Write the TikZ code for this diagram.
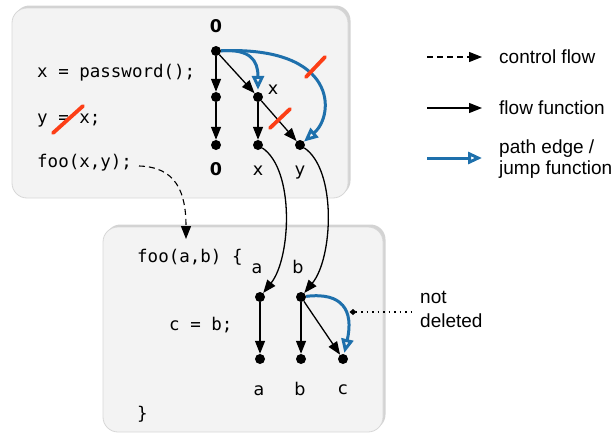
\documentclass[tikz,border=0pt]{standalone}
\usepackage{fontspec}
\setmainfont{Liberation Sans}
\newfontfamily\codefont{DejaVu Sans Mono}
\newfontfamily\labfont{DejaVu Sans}
\usetikzlibrary{arrows.meta,shadows}
\definecolor{jblue}{RGB}{30,112,172}
\definecolor{cutred}{RGB}{252,62,22}
\definecolor{boxgray}{RGB}{243,243,243}
\definecolor{boxline}{RGB}{215,215,215}
\tikzset{
  dot/.style={circle,fill=black,inner sep=0pt,minimum size=10pt},
  flow/.style={-{Triangle[length=13pt,width=10pt]},line width=1.3pt},
  ctrl/.style={-{Triangle[length=13pt,width=10pt]},line width=1.1pt,dash pattern=on 6pt off 4pt},
  jump/.style={-{Triangle[open,length=14pt,width=12pt]},line width=3pt,draw=jblue},
  cut/.style={draw=cutred,line width=3.8pt,line cap=round},
  box/.style={rounded corners=15pt,fill=boxgray,draw=boxline,line width=0.8pt,
    drop shadow={opacity=0.35,shadow xshift=2.5pt,shadow yshift=2.5pt}},
  code/.style={anchor=base west,inner sep=0pt,font=\codefont\fontsize{17.5}{21}\selectfont},
  lab/.style={anchor=base,inner sep=0pt,font=\labfont\fontsize{17.5}{21}\selectfont},
  blab/.style={anchor=base,inner sep=0pt,font=\labfont\bfseries\fontsize{17.5}{21}\selectfont},
  leg/.style={anchor=base west,inner sep=0pt,align=left,font=\fontsize{19}{22}\selectfont},
}
\begin{document}
\begin{tikzpicture}[x=1pt,y=-1pt]
\useasboundingbox (0,0) rectangle (616,439);
% boxes
\path[box] (12,8) rectangle (348,198);
\path[box] (103,227) rectangle (383,432);
% code top
\node[code] (c1) at (37,77) {x = password();};
\node[code] (c2) at (37,123) {y = x;};
\node[code] (c3) at (37,167) {foo(x,y);};
% code bottom
\node[code] (d1) at (137,262) {foo(a,b) \{};
\node[code] (d2) at (169,330) {c = b;};
\node[code] (d3) at (137,419) {\}};
% top graph nodes
\node[dot] (t0) at (216,51) {};
\node[dot] (m0) at (216,97) {};
\node[dot] (m1) at (258,97) {};
\node[dot] (b0) at (216,145) {};
\node[dot] (b1) at (258,145) {};
\node[dot] (b2) at (300,145) {};
\node[blab] (l0) at (216,32) {0};
\node[lab] (lx) at (273,94) {x};
\node[blab] (lb0) at (216,175) {0};
\node[lab] (lbx) at (258,175) {x};
\node[lab] (lby) at (300,175) {y};
% bottom graph nodes
\node[dot] (pa) at (260,297) {};
\node[dot] (pb) at (301,297) {};
\node[dot] (qa) at (260,359) {};
\node[dot] (qb) at (301,359) {};
\node[dot] (qc) at (343,359) {};
\node[lab] (la) at (257,273) {a};
\node[lab] (lb) at (298,273) {b};
\node[lab] (lqa) at (259,395) {a};
\node[lab] (lqb) at (300,395) {b};
\node[lab] (lqc) at (343,394) {c};
% flow functions top
\draw[flow] (t0) -- (m0);
\draw[flow] (m0) -- (b0);
\draw[flow] (t0) -- (m1);
\draw[flow] (m1) -- (b1);
\draw[flow] (m1) -- (b2);
% jump functions top
\draw[jump,shorten >=2pt] (t0) .. controls (250,49) and (258,60) .. (m1);
\draw[jump] (t0) .. controls (338,46) and (335,115) .. (b2);
% cuts
\draw[cut] (53,133) -- (83,106);
\draw[cut] (306,77) -- (325,57);
\draw[cut] (270,128) -- (290,109);
% call edges
\draw[flow] (b1) .. controls (295,170) and (291,258) .. (pa);
\draw[flow] (b2) .. controls (337,170) and (333,258) .. (pb);
% control flow
\coordinate (cs) at (139,166);
\coordinate (ce) at (186,239);
\draw[ctrl] (cs) .. controls (176,167) and (186,192) .. (ce);
% bottom flows
\draw[flow] (pa) -- (qa);
\draw[flow] (pb) -- (qb);
\draw[flow] (pb) -- (qc);
\draw[jump,shorten >=1pt] (pb) .. controls (342,292) and (354,310) .. (qc);
% not deleted
\coordinate (nd) at (353,312);
\coordinate (ne) at (414,312);
\draw[line width=1.3pt,dash pattern=on 1.5pt off 4pt,{Diamond[length=7pt,width=6pt,sep=-3.5pt]}-] (nd) -- (ne);
\node[leg] (ndl) at (420,327) {not\\[2pt]deleted};
% legend
\coordinate (g1a) at (427,57); \coordinate (g1b) at (482,57);
\coordinate (g2a) at (427,108); \coordinate (g2b) at (482,108);
\coordinate (g3a) at (427,158); \coordinate (g3b) at (482,158);
\draw[ctrl] (g1a) -- (g1b);
\draw[flow] (g2a) -- (g2b);
\draw[jump] (g3a) -- (g3b);
\node[leg] (t1) at (499,63) {control flow};
\node[leg] (t2) at (499,114) {flow function};
\node[leg] (t3) at (499,174) {path edge /\\[-1pt]jump function};
\end{tikzpicture}
\end{document}
